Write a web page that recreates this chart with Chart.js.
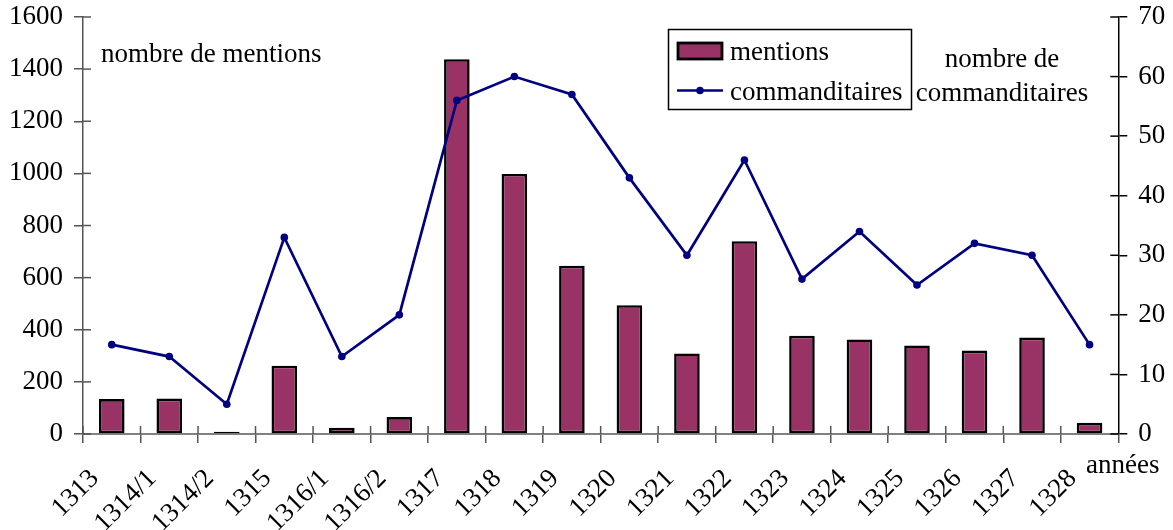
<!DOCTYPE html>
<html>
<head>
<meta charset="utf-8">
<script src="https://cdn.jsdelivr.net/npm/chart.js@4/dist/chart.umd.min.js"></script>
<style>
  html, body { margin: 0; padding: 0; background: #fff; }
  #wrap { position: relative; width: 1173px; height: 530px; }
  canvas { display: block; }
</style>
</head>
<body>
<div id="wrap"><canvas id="c" width="1173" height="530"></canvas></div>
<script>
const categories = ['1313','1314/1','1314/2','1315','1316/1','1316/2','1317','1318','1319','1320','1321','1322','1323','1324','1325','1326','1327','1328'];
const mentions = [134, 136, 9, 262, 24, 65, 1438, 998, 646, 494, 309, 740, 377, 363, 340, 320, 370, 43];
const commanditaires = [15, 13, 5, 33, 13, 20, 56, 60, 57, 43, 30, 46, 26, 34, 25, 32, 30, 15];
const leftTicks = [0, 200, 400, 600, 800, 1000, 1200, 1400, 1600];
const rightTicks = [0, 10, 20, 30, 40, 50, 60, 70];

const FONT = 'Liberation Serif';
const FS = 27;
Chart.defaults.font.family = FONT;
Chart.defaults.font.size = FS;
Chart.defaults.color = '#000';

const barColor = '#993366';
const lineColor = '#000080';

const innerTicks = {
  id: 'innerTicks',
  afterDraw(chart) {
    const ctx = chart.ctx, a = chart.chartArea;
    const y = chart.scales.y, y1 = chart.scales.y1, x = chart.scales.x;
    ctx.save();
    ctx.lineWidth = 1.5;
    ctx.strokeStyle = '#555';
    y.ticks.forEach((t, i) => {
      const p = y.getPixelForTick(i);
      ctx.beginPath(); ctx.moveTo(a.left, p); ctx.lineTo(a.left + 8, p); ctx.stroke();
    });
    ctx.strokeStyle = '#000';
    y1.ticks.forEach((t, i) => {
      const p = y1.getPixelForTick(i);
      ctx.beginPath(); ctx.moveTo(a.right - 8, p); ctx.lineTo(a.right, p); ctx.stroke();
    });
    ctx.strokeStyle = '#555';
    const n = x.ticks.length;
    for (let i = 0; i < n; i++) {
      const half = n > 1 ? (x.getPixelForTick(1) - x.getPixelForTick(0)) / 2 : 0;
      const p = x.getPixelForTick(i) - half;
      ctx.beginPath(); ctx.moveTo(p, a.bottom - 8); ctx.lineTo(p, a.bottom); ctx.stroke();
    }
    ctx.restore();
  }
};

const annotations = {
  id: 'annotations',
  afterDraw(chart) {
    const ctx = chart.ctx;
    ctx.save();
    ctx.font = FS + 'px "' + FONT + '"';
    ctx.fillStyle = '#000';
    ctx.textBaseline = 'alphabetic';
    ctx.textAlign = 'left';
    ctx.fillText('nombre de mentions', 101, 62);
    ctx.textAlign = 'center';
    ctx.fillText('nombre de', 1002, 67);
    ctx.fillText('commanditaires', 1002, 101);
    ctx.textAlign = 'left';
    ctx.fillText('années', 1086, 473);

    // legend box
    ctx.fillStyle = '#fff';
    ctx.fillRect(668.5, 29.5, 243, 80);
    ctx.lineWidth = 1.5;
    ctx.strokeStyle = '#000';
    ctx.strokeRect(668.5, 29.5, 243, 80);
    const dsBar = chart.data.datasets[1];
    const dsLine = chart.data.datasets[0];
    ctx.fillStyle = dsBar.backgroundColor;
    ctx.fillRect(678, 43, 44, 16);
    ctx.lineWidth = 2.8;
    ctx.strokeStyle = dsBar.borderColor;
    ctx.strokeRect(678, 43, 44, 16);
    ctx.strokeStyle = dsLine.borderColor;
    ctx.lineWidth = 2.7;
    ctx.beginPath(); ctx.moveTo(677, 90.5); ctx.lineTo(723, 90.5); ctx.stroke();
    ctx.fillStyle = dsLine.borderColor;
    ctx.beginPath(); ctx.arc(700, 90.5, 3.8, 0, Math.PI * 2); ctx.fill();
    ctx.fillStyle = '#000';
    ctx.fillText(dsBar.label, 730, 60);
    ctx.fillText(dsLine.label, 730, 100);
    ctx.restore();
  }
};

const plain = v => String(v);

new Chart(document.getElementById('c'), {
  data: {
    labels: categories,
    datasets: [
      {
        type: 'line',
        label: 'commanditaires',
        data: commanditaires,
        yAxisID: 'y1',
        borderColor: lineColor,
        backgroundColor: lineColor,
        borderWidth: 2.7,
        pointRadius: 3.8,
        pointBackgroundColor: lineColor,
        pointBorderWidth: 0,
        tension: 0,
        order: 0
      },
      {
        type: 'bar',
        label: 'mentions',
        data: mentions,
        yAxisID: 'y',
        backgroundColor: barColor,
        borderColor: '#000',
        borderWidth: 2.6,
        borderSkipped: false,
        barPercentage: 0.445,
        categoryPercentage: 1,
        order: 1
      }
    ]
  },
  options: {
    responsive: false,
    animation: false,
    devicePixelRatio: 1,
    layout: { padding: { top: 17, right: 0, left: 0, bottom: 0 } },
    plugins: { legend: { display: false }, tooltip: { enabled: false } },
    scales: {
      x: {
        type: 'category',
        offset: true,
        grid: { offset: true, drawOnChartArea: false, drawTicks: true, tickLength: 9, color: '#555', lineWidth: 1.5 },
        border: { color: '#808080', width: 2 },
        ticks: { minRotation: 45, maxRotation: 45, padding: 20, labelOffset: -17, autoSkip: false, font: { size: FS } },
        afterFit(s) { s.height = 96; s.paddingLeft = 0; s.paddingRight = 0; }
      },
      y: {
        position: 'left',
        min: 0, max: 1600,
        afterBuildTicks(s) { s.ticks = leftTicks.map(v => ({ value: v })); },
        grid: { drawOnChartArea: false, tickLength: 9, color: '#555', lineWidth: 1.5 },
        border: { color: '#555', width: 1.5 },
        ticks: { padding: 11, font: { size: FS }, callback: plain },
        afterFit(s) { s.width = 83; s.paddingTop = 0; s.paddingBottom = 0; }
      },
      y1: {
        position: 'right',
        min: 0, max: 70,
        afterBuildTicks(s) { s.ticks = rightTicks.map(v => ({ value: v })); },
        grid: { drawOnChartArea: false, tickLength: 9, color: '#000', lineWidth: 1.5 },
        border: { color: '#000', width: 1.5 },
        ticks: { padding: 11, font: { size: FS }, callback: plain },
        afterFit(s) { s.width = 54.7; s.paddingTop = 0; s.paddingBottom = 0; }
      }
    }
  },
  plugins: [innerTicks, annotations]
});
</script>
</body>
</html>
